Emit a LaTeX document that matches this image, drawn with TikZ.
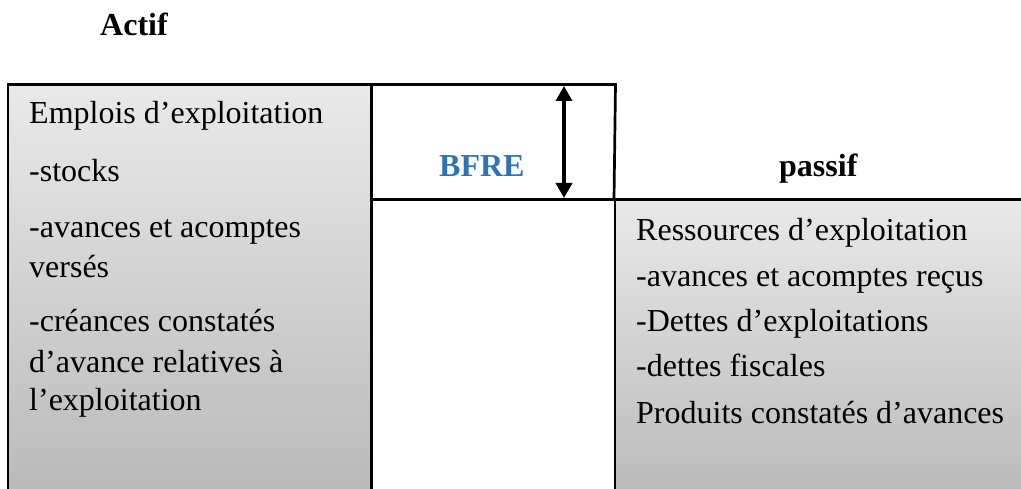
\documentclass[tikz,border=0pt]{standalone}
\usepackage{fontspec}
\setmainfont{Liberation Serif}
\usetikzlibrary{arrows.meta}
\definecolor{boxtop}{HTML}{E9E9E9}
\definecolor{boxbottom}{HTML}{B9B9B9}
\definecolor{bfreblue}{HTML}{2E74B5}
\tikzset{
  txt/.style={anchor=base west, inner sep=0pt, font=\fontsize{32}{38}\selectfont},
  head/.style={txt, font=\fontsize{32}{38}\selectfont\bfseries},
  frame/.style={line width=2.7pt, line join=miter},
  dbl/.style={line width=3.4pt, {Triangle[width=16pt,length=15pt]}-{Triangle[width=16pt,length=15pt]}}
}
\begin{document}
\begin{tikzpicture}[x=1pt, y=-1pt]
  \useasboundingbox (0,0) rectangle (1021,489);
  \clip (0,0) rectangle (1021,489);

  % shaded blocks: uses (left) and resources (right)
  \shade[top color=boxtop, bottom color=boxbottom] (8,84.5) rectangle (371.5,500);
  \shade[top color=boxtop, bottom color=boxbottom] (615,199.5) rectangle (1030,500);

  % frames
  \draw[frame] (8,500) -- (8,84.5) -- (371.5,84.5) -- (371.5,500);
  \draw[frame] (371.5,84.5) -- (615.5,84.5) -- (614,199.5);
  \draw[frame] (371.5,199.5) -- (1030,199.5);
  \draw[frame] (615,199.5) -- (615,500);

  % height of the BFRE
  \coordinate (bfretop) at (564,86);
  \coordinate (bfrebot) at (564,198);
  \draw[dbl] (bfretop) -- (bfrebot);

  % headings
  \node[head] (actif) at (100,36) {Actif};
  \node[head, text=bfreblue] (bfre) at (439,177) {BFRE};
  \node[head] (passif) at (779,177) {passif};

  % uses of operations
  \node[txt] (e1) at (29,124) {Emplois d’exploitation};
  \node[txt] (e2) at (29,182) {-stocks};
  \node[txt] (e3) at (29,238) {-avances et acomptes};
  \node[txt] (e4) at (29,278) {versés};
  \node[txt] (e5) at (29,332) {-créances constatés};
  \node[txt] (e6) at (29,372) {d’avance relatives à};
  \node[txt] (e7) at (29,410) {l’exploitation};

  % resources of operations
  \node[txt] (r1) at (636,241) {Ressources d’exploitation};
  \node[txt] (r2) at (636,287) {-avances et acomptes reçus};
  \node[txt] (r3) at (636,332) {-Dettes d’exploitations};
  \node[txt] (r4) at (636,377) {-dettes fiscales};
  \node[txt] (r5) at (636,423) {Produits constatés d’avances};
\end{tikzpicture}
\end{document}
